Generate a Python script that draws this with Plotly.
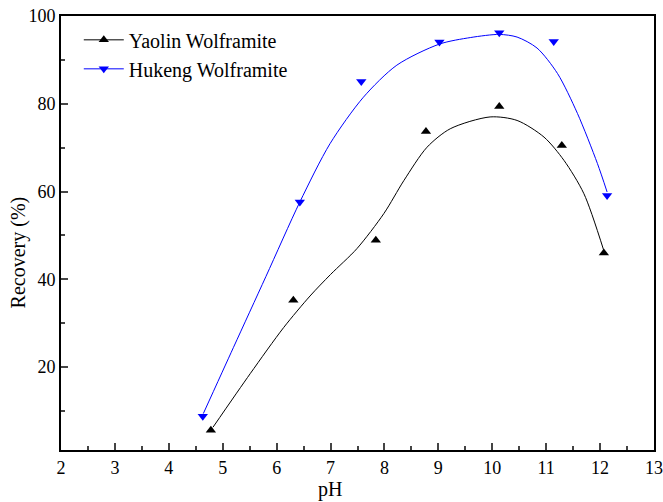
import plotly.graph_objects as go

# Measured data points
yaolin_ph = [4.78, 6.31, 7.84, 8.77, 10.13, 11.29, 12.07]
yaolin_rec = [5.6, 35.2, 48.9, 73.7, 79.4, 70.5, 46.0]
hukeng_ph = [4.63, 6.43, 7.57, 9.02, 10.13, 11.14, 12.13]
hukeng_rec = [8.8, 57.6, 85.1, 94.1, 96.2, 94.2, 59.1]

# Fitted curves
yaolin_fit_ph = [4.82, 5.51, 6.13, 6.62, 7.0, 7.49, 7.99, 8.36, 8.79, 9.22, 9.96, 10.46, 10.96, 11.33, 11.70, 12.07]
yaolin_fit_rec = [6.3, 18.5, 29.0, 36.2, 41.1, 47.0, 55.0, 62.5, 70.1, 74.3, 77.0, 76.2, 72.4, 67.1, 59.5, 46.5]
hukeng_fit_ph = [4.64, 5.2, 5.8, 6.43, 6.99, 7.61, 8.23, 9.02, 9.6, 10.13, 10.46, 10.83, 11.21, 11.58, 11.95, 12.13]
hukeng_fit_rec = [9.4, 24.5, 40.6, 57.6, 70.9, 81.5, 88.8, 93.6, 95.1, 95.8, 95.2, 92.7, 86.9, 77.8, 66.4, 59.9]

FONT = "Liberation Serif"

fig = go.Figure()
fig.add_trace(go.Scatter(x=yaolin_fit_ph, y=yaolin_fit_rec, mode="lines",
                         line=dict(color="black", width=1, shape="spline", smoothing=0.8),
                         showlegend=False, hoverinfo="skip"))
fig.add_trace(go.Scatter(x=hukeng_fit_ph, y=hukeng_fit_rec, mode="lines",
                         line=dict(color="blue", width=1, shape="spline", smoothing=0.8),
                         showlegend=False, hoverinfo="skip"))
fig.add_trace(go.Scatter(x=yaolin_ph, y=yaolin_rec, mode="markers", showlegend=False,
                         marker=dict(symbol="triangle-up", size=9, color="black")))
fig.add_trace(go.Scatter(x=hukeng_ph, y=hukeng_rec, mode="markers", showlegend=False,
                         marker=dict(symbol="triangle-down", size=9, color="blue")))
fig.add_trace(go.Scatter(x=[None], y=[None], mode="lines+markers", name="Yaolin Wolframite",
                         line=dict(color="black", width=1),
                         marker=dict(symbol="triangle-up", size=9, color="black")))
fig.add_trace(go.Scatter(x=[None], y=[None], mode="lines+markers", name="Hukeng Wolframite",
                         line=dict(color="blue", width=1),
                         marker=dict(symbol="triangle-down", size=9, color="blue")))

fig.update_layout(
    width=663, height=502,
    margin=dict(l=61, r=9, t=16, b=52),
    paper_bgcolor="white", plot_bgcolor="white",
    font=dict(family=FONT, size=18, color="black"),
    legend=dict(x=0.03, y=0.99, xanchor="left", yanchor="top",
                bgcolor="rgba(0,0,0,0)", font=dict(family=FONT, size=20),
                tracegroupgap=0, itemwidth=40),
    showlegend=True,
    annotations=[
        dict(text="pH", xref="paper", yref="paper", x=0.453, y=-0.092,
             xanchor="center", yanchor="middle", showarrow=False,
             font=dict(family=FONT, size=20)),
        dict(text="Recovery (%)", xref="paper", yref="paper", x=-0.072, y=0.456,
             xanchor="center", yanchor="middle", showarrow=False, textangle=-90,
             font=dict(family=FONT, size=20)),
    ],
)
fig.update_xaxes(range=[2, 13], tick0=2, dtick=1, ticks="inside", ticklen=7, tickwidth=1.5,
                 showline=True, linewidth=2, linecolor="black", mirror=True,
                 showgrid=False, zeroline=False, automargin=False,
                 minor=dict(ticks="inside", ticklen=4, tickwidth=1.5, dtick=0.5, showgrid=False),
                 tickfont=dict(family=FONT, size=18))
fig.update_yaxes(range=[1.1, 100], tick0=0, dtick=20, ticks="inside", ticklen=7, tickwidth=1.5,
                 showline=True, linewidth=2, linecolor="black", mirror=True,
                 showgrid=False, zeroline=False, automargin=False,
                 minor=dict(ticks="inside", ticklen=4, tickwidth=1.5, dtick=10, showgrid=False),
                 tickfont=dict(family=FONT, size=18))

fig.write_html("out.html")
